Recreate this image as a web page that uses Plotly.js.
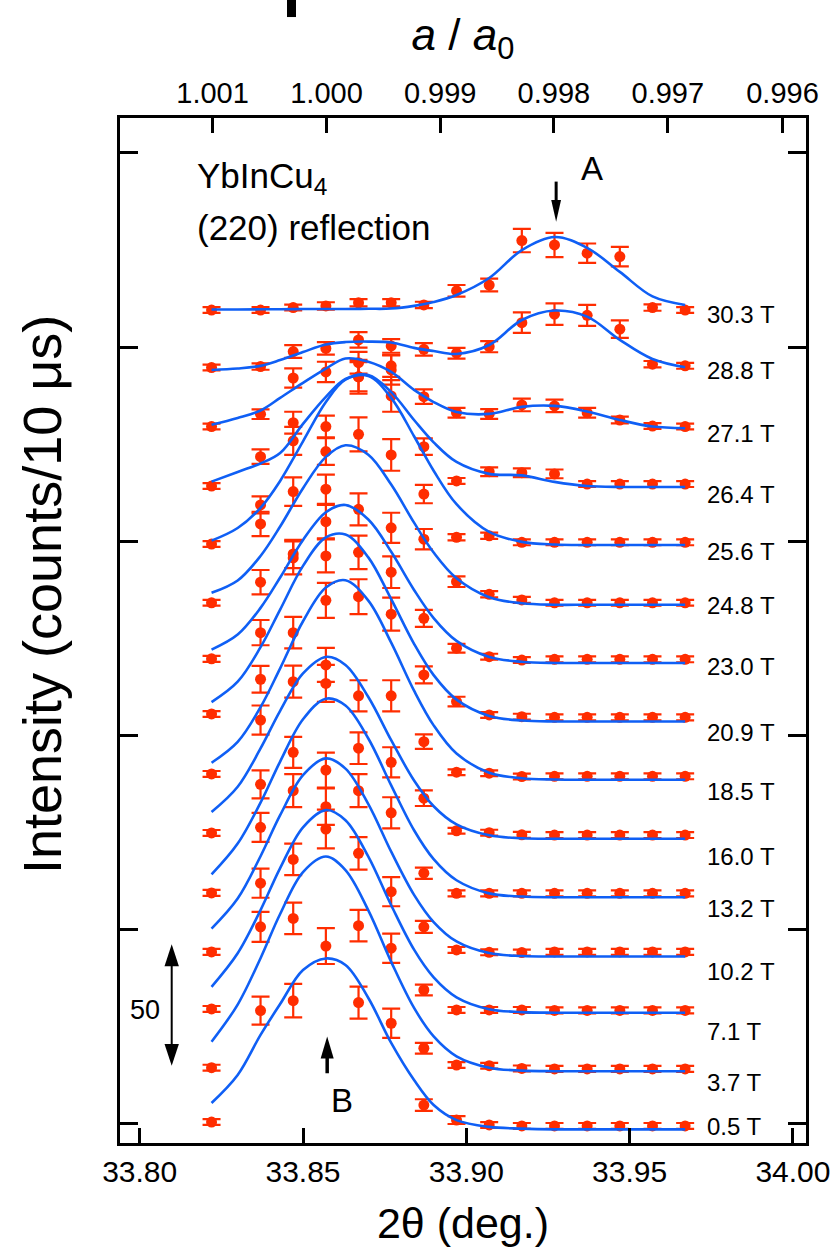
<!DOCTYPE html>
<html>
<head>
<meta charset="utf-8">
<script src="https://cdn.plot.ly/plotly-3.0.1.min.js"></script>
<style>html,body{margin:0;padding:0;background:#fff;}#chart{width:832px;height:1256px;}</style>
</head>
<body>
<div id="chart"></div>
<script>
// ---------------- data ----------------
const twoTheta = [33.822, 33.837, 33.847, 33.857, 33.867, 33.877, 33.887, 33.897, 33.907, 33.917, 33.927, 33.937, 33.947, 33.957, 33.967];
const fitTwoTheta = [33.822, 33.830, 33.837, 33.843, 33.850, 33.857, 33.863, 33.870, 33.877, 33.884, 33.890, 33.897, 33.907, 33.917, 33.927, 33.937, 33.947, 33.957, 33.967];

const fieldLabels = ['0.5 T','3.7 T','7.1 T','10.2 T','13.2 T','16.0 T','18.5 T','20.9 T','23.0 T','24.8 T','25.6 T','26.4 T','27.1 T','28.8 T','30.3 T'];
const curveOffsets = [0, 24, 48, 72, 96, 120, 144, 168, 192, 216, 240, 264, 288, 312, 336];

// measured intensities (counts / 10 us, above each curve's offset)
const counts_0p5T  = [0.8, 46.7, 50.8, 73.3, 50.0, 41.5, 7.8, 1.6, -0.4, -0.8, -0.8, -0.8, -0.8, -0.8, -0.8];
const counts_3p7T  = [-0.8, 57.2, 60.7, 97.5, 57.7, 48.4, 7.2, 0.3, 0.0, -1.1, -1.3, -1.3, -1.3, -1.3, -1.3];
const counts_7p1T  = [-0.6, 51.2, 61.0, 82.7, 63.5, 47.7, 7.2, -1.0, -1.0, -1.0, -1.2, -1.2, -1.2, -1.2, -1.2];
const counts_10p2T = [-1.1, 50.2, 65.3, 73.8, 65.3, 56.2, 9.2, -0.3, -1.3, -1.4, -1.1, -1.1, -1.1, -1.1, -1.1];
const counts_13p2T = [-0.8, 43.9, 57.1, 85.5, 58.8, 53.0, 7.3, -1.0, -1.0, -1.0, -1.0, -1.0, -1.0, -1.0, -1.0];
const counts_16p0T = [-0.1, 46.4, 62.2, 69.1, 56.4, 56.4, 14.2, 0.8, 0.0, -0.9, -1.0, -1.0, -1.0, -1.0, -1.0];
const counts_18p5T = [0.2, 39.2, 58.4, 71.7, 73.2, 66.0, 13.5, 0.9, 0.5, -0.9, -0.8, -0.8, -0.8, -0.8, -0.8];
const counts_20p9T = [0.9, 34.4, 65.2, 66.0, 67.5, 59.3, 17.0, 6.0, 0.5, -0.2, -0.5, -0.5, -0.5, -0.5, -0.5];
const counts_23p0T = [-0.4, 31.2, 42.8, 56.1, 61.2, 53.6, 16.3, 4.0, 0.5, -0.9, -0.6, -0.6, -0.6, -0.6, -0.6];
const counts_24p8T = [-1.3, 31.2, 44.5, 45.5, 68.1, 59.6, 24.9, 7.4, 2.2, -0.1, -1.3, -1.3, -1.3, -1.3, -1.3];
const counts_25p6T = [-1.1, 15.0, 41.4, 37.0, 67.8, 59.9, 19.5, 1.7, 2.3, -0.4, -0.4, -0.4, -0.4, -0.4, -0.4];
const counts_26p4T = [-1.2, 10.9, 24.9, 23.3, 43.8, 46.6, 15.0, 0.9, 4.7, 4.3, 3.8, -0.4, -0.4, -0.4, -0.4];
const counts_27p1T = [-0.7, 4.4, 19.3, 21.8, 25.6, 24.3, 11.6, 5.0, 4.5, 8.2, 7.8, 5.0, 2.0, -0.5, -0.7];
const counts_28p8T = [-0.4, 0.0, 6.2, 7.5, 11.0, 8.5, 7.1, 5.5, 8.2, 18.1, 21.6, 21.1, 15.4, 1.0, 0.3];
const counts_30p3T = [-0.7, -0.7, 0.3, 1.0, 2.3, 2.3, 1.4, 7.2, 9.6, 27.9, 26.1, 22.7, 21.3, 0.3, -0.7];

const err_0p5T  = [1.2, 5.8, 6.9, 7.4, 6.6, 6.0, 2.4, 1.6, 1.2, 1.2, 1.2, 1.2, 1.2, 1.2, 1.2];
const err_3p7T  = [1.2, 6.2, 6.5, 8.0, 6.5, 6.0, 2.2, 1.2, 1.2, 1.2, 1.2, 1.2, 1.2, 1.2, 1.2];
const err_7p1T  = [1.2, 6.0, 6.5, 7.5, 6.7, 6.0, 2.2, 1.2, 1.2, 1.2, 1.2, 1.2, 1.2, 1.2, 1.2];
const err_10p2T = [1.2, 6.0, 6.8, 7.2, 6.8, 6.4, 2.5, 1.2, 1.2, 1.2, 1.2, 1.2, 1.2, 1.2, 1.2];
const err_13p2T = [1.2, 5.8, 6.4, 7.6, 6.5, 6.2, 2.3, 1.2, 1.2, 1.2, 1.2, 1.2, 1.2, 1.2, 1.2];
const err_16p0T = [1.2, 6.0, 6.6, 7.0, 6.4, 6.4, 3.2, 1.2, 1.2, 1.2, 1.2, 1.2, 1.2, 1.2, 1.2];
const err_18p5T = [1.2, 5.5, 6.5, 7.2, 7.2, 6.8, 3.0, 1.2, 1.2, 1.2, 1.2, 1.2, 1.2, 1.2, 1.2];
const err_20p9T = [1.2, 5.2, 6.8, 6.8, 6.9, 6.5, 3.5, 2.0, 1.2, 1.2, 1.2, 1.2, 1.2, 1.2, 1.2];
const err_23p0T = [1.2, 5.0, 5.8, 6.9, 6.6, 6.2, 3.5, 1.8, 1.2, 1.2, 1.2, 1.2, 1.2, 1.2, 1.2];
const err_24p8T = [1.2, 5.0, 5.9, 6.0, 7.0, 6.5, 4.2, 2.2, 1.3, 1.2, 1.2, 1.2, 1.2, 1.2, 1.2];
const err_25p6T = [1.2, 3.5, 5.8, 5.5, 7.0, 6.5, 3.8, 1.3, 1.3, 1.2, 1.2, 1.2, 1.2, 1.2, 1.2];
const err_26p4T = [1.2, 3.0, 4.5, 4.5, 6.0, 6.0, 3.4, 1.2, 1.8, 1.8, 1.8, 1.2, 1.2, 1.2, 1.2];
const err_27p1T = [1.2, 2.0, 4.0, 4.2, 4.5, 4.5, 3.0, 2.0, 2.0, 2.6, 2.6, 2.0, 1.4, 1.2, 1.2];
const err_28p8T = [1.2, 1.3, 2.6, 2.6, 3.2, 2.8, 2.6, 2.2, 2.3, 4.2, 4.4, 4.3, 3.6, 1.3, 1.2];
const err_30p3T = [1.2, 1.2, 1.2, 1.5, 1.5, 1.5, 1.3, 2.4, 2.6, 4.8, 5.0, 4.0, 4.0, 1.3, 1.2];

// fitted profiles (same units as counts)
const fit_0p5T  = [8.65, 20.2, 36.7, 49.4, 63.4, 68.2, 65.5, 51.9, 33.4, 18.1, 7.8, 1.6, -1.2, -1.9, -2.2, -2.2, -2.2, -2.2, -2.2];
const fit_3p7T  = [9.9, 25.2, 44.3, 62.5, 79.8, 86.2, 80.6, 64.0, 42.8, 23.8, 12.1, 3.9, -0.8, -2.0, -2.25, -2.25, -2.25, -2.25, -2.25];
const fit_7p1T  = [8.5, 22.3, 40.1, 57.4, 74.2, 81.3, 77.1, 62.1, 42.1, 23.8, 12.4, 4.2, -0.7, -1.9, -2.15, -2.15, -2.15, -2.15, -2.15];
const fit_10p2T = [8.5, 20.9, 38.3, 55.2, 71.7, 78.6, 74.4, 59.8, 40.2, 22.4, 11.2, 3.2, -1.6, -2.8, -3.0, -3.0, -3.0, -3.0, -3.0];
const fit_13p2T = [6.8, 19.5, 36.4, 53.3, 70.7, 79.2, 76.4, 62.8, 43.5, 25.0, 13.1, 4.4, -1.0, -2.3, -2.6, -2.6, -2.6, -2.6, -2.6];
const fit_16p0T = [8.5, 18.9, 34.7, 50.2, 65.6, 72.4, 69.1, 55.9, 38.1, 21.5, 10.9, 3.4, -1.1, -2.3, -2.5, -2.5, -2.5, -2.5, -2.5];
const fit_18p5T = [4.8, 13.4, 27.7, 43.7, 63.1, 77.0, 80.0, 71.6, 54.3, 34.5, 20.2, 8.6, 0.7, -1.6, -2.1, -2.2, -2.2, -2.2, -2.2];
const fit_20p9T = [5.8, 14.2, 28.4, 43.9, 61.9, 73.6, 74.8, 65.4, 48.2, 29.8, 16.9, 6.8, 0.1, -1.8, -2.2, -2.2, -2.2, -2.2, -2.2];
const fit_23p0T = [3.4, 9.6, 20.6, 33.1, 48.6, 60.0, 63.0, 57.0, 43.7, 28.0, 16.4, 7.0, 0.4, -1.6, -2.1, -2.1, -2.1, -2.1, -2.1];
const fit_24p8T = [2.8, 7.9, 18.0, 30.1, 45.9, 58.8, 63.6, 59.7, 47.4, 31.7, 19.4, 8.8, 1.0, -1.5, -2.1, -2.1, -2.1, -2.1, -2.1];
const fit_25p6T = [0.3, 5.5, 13.8, 24.9, 41.2, 57.4, 66.6, 68.1, 59.1, 43.3, 29.1, 15.3, 3.9, -0.2, -1.3, -1.5, -1.5, -1.5, -1.5];
const fit_26p4T = [0.6, 4.6, 8.1, 12.4, 24.4, 35.5, 42.9, 44.5, 37.5, 26.0, 16.8, 8.7, 3.8, 3.2, 0.5, -1.2, -1.6, -1.6, -1.6];
const fit_27p1T = [0.0, 2.8, 5.9, 11.1, 17.3, 23.2, 27.3, 26.0, 21.8, 14.4, 9.4, 5.3, 4.5, 7.4, 7.8, 5.5, 2.0, -0.7, -1.4];
const fit_28p8T = [-1.4, -0.8, 0.3, 2.7, 6.0, 9.1, 10.1, 10.3, 9.9, 7.7, 6.4, 5.2, 8.9, 19.2, 23.1, 20.6, 11.0, 3.1, -0.3];
const fit_30p3T = [-0.5, -0.5, -0.4, -0.4, -0.3, -0.3, -0.3, -0.2, -0.1, 1.0, 2.6, 5.5, 12.5, 24.0, 29.4, 24.9, 15.0, 4.9, 1.4];

// axis ticks
const bottomTickVals = [33.80, 33.85, 33.90, 33.95, 34.00];
const bottomTickText = ['33.80', '33.85', '33.90', '33.95', '34.00'];
const topTickVals = [33.8223, 33.8572, 33.8920, 33.9268, 33.9617, 33.9968];   // 2θ positions of a/a0 ticks
const topTickText = ['1.001', '1.000', '0.999', '0.998', '0.997', '0.996'];

// ---------------- build ----------------
const countsAll = [counts_0p5T, counts_3p7T, counts_7p1T, counts_10p2T, counts_13p2T, counts_16p0T, counts_18p5T, counts_20p9T, counts_23p0T, counts_24p8T, counts_25p6T, counts_26p4T, counts_27p1T, counts_28p8T, counts_30p3T];
const errAll = [err_0p5T, err_3p7T, err_7p1T, err_10p2T, err_13p2T, err_16p0T, err_18p5T, err_20p9T, err_23p0T, err_24p8T, err_25p6T, err_26p4T, err_27p1T, err_28p8T, err_30p3T];
const fitAll = [fit_0p5T, fit_3p7T, fit_7p1T, fit_10p2T, fit_13p2T, fit_16p0T, fit_18p5T, fit_20p9T, fit_23p0T, fit_24p8T, fit_25p6T, fit_26p4T, fit_27p1T, fit_28p8T, fit_30p3T];
const labelY = [-1.1, 17.0, 37.9, 62.7, 88.7, 110.0, 136.9, 161.2, 188.5, 213.4, 236.0, 259.5, 284.5, 310.4, 333.5];

const RED = '#ff2d00';
const BLUE = '#0f5ff5';
const FONT = 'Liberation Sans, Arial, Helvetica, sans-serif';

const traces = [];
countsAll.forEach((c, i) => {
  traces.push({
    type: 'scatter', mode: 'markers', name: fieldLabels[i] + ' data',
    x: twoTheta, y: c.map(v => v + curveOffsets[i]),
    marker: {color: RED, size: 11},
    error_y: {type: 'data', array: errAll[i], visible: true, color: RED, thickness: 2.2, width: 9},
    showlegend: false, hoverinfo: 'skip'
  });
});
fitAll.forEach((f, i) => {
  traces.push({
    type: 'scatter', mode: 'lines', name: fieldLabels[i] + ' fit',
    x: fitTwoTheta, y: f.map(v => v + curveOffsets[i]),
    line: {color: BLUE, width: 2.6, shape: 'spline', smoothing: 1},
    showlegend: false, hoverinfo: 'skip'
  });
});
// carrier for top axis
traces.push({type: 'scatter', mode: 'markers', x: [33.80, 34.00], y: [null, null], xaxis: 'x2', yaxis: 'y', showlegend: false, hoverinfo: 'skip', marker: {opacity: 0}});

const xRange = [33.79397, 34.0040];
const annotations = [];
fieldLabels.forEach((t, i) => {
  annotations.push({x: 33.9731, y: labelY[i], xref: 'x', yref: 'y', text: t, showarrow: false, xanchor: 'left', yanchor: 'middle', font: {size: 24, family: FONT, color: '#000'}});
});
annotations.push(
  {x: 33.8169, y: 389.7, xref: 'x', yref: 'y', text: 'YbInCu<sub>4</sub>', showarrow: false, xanchor: 'left', yanchor: 'middle', font: {size: 35, family: FONT, color: '#000'}},
  {x: 33.8169, y: 369.1, xref: 'x', yref: 'y', text: '(220) reflection', showarrow: false, xanchor: 'left', yanchor: 'middle', font: {size: 35, family: FONT, color: '#000'}},
  {x: 33.9385, y: 393.4, xref: 'x', yref: 'y', text: 'A', showarrow: false, font: {size: 33, family: FONT, color: '#000'}},
  {x: 33.8618, y: 9.6, xref: 'x', yref: 'y', text: 'B', showarrow: false, font: {size: 33, family: FONT, color: '#000'}},
  {x: 33.8015, y: 47.0, xref: 'x', yref: 'y', text: '50', showarrow: false, font: {size: 27, family: FONT, color: '#000'}},
  {x: -0.1137, y: 0.5346, xref: 'paper', yref: 'paper', text: 'Intensity (counts/10 μs)', textangle: -90, showarrow: false, xanchor: 'center', yanchor: 'middle', font: {size: 54, family: FONT, color: '#000'}}
);

// arrows (A, B, 50-count bar) drawn as line + filled head shapes in data units
const arrowShapes = [
  // A : pointing down
  {type: 'line', xref: 'x', yref: 'y', x0: 33.9275, x1: 33.9275, y0: 388.2, y1: 379, line: {color: '#000', width: 3}},
  {type: 'path', xref: 'x', yref: 'y', path: 'M33.9260,380.6 L33.9290,380.6 L33.9275,371.7 Z', fillcolor: '#000', line: {width: 0}},
  // B : pointing up
  {type: 'line', xref: 'x', yref: 'y', x0: 33.8574, x1: 33.8574, y0: 20.9, y1: 28, line: {color: '#000', width: 3.5}},
  {type: 'path', xref: 'x', yref: 'y', path: 'M33.8554,27.0 L33.8594,27.0 L33.8574,36.0 Z', fillcolor: '#000', line: {width: 0}},
  // 50-count scale bar
  {type: 'line', xref: 'x', yref: 'y', x0: 33.8098, x1: 33.8098, y0: 30, y1: 68, line: {color: '#000', width: 2}},
  {type: 'path', xref: 'x', yref: 'y', path: 'M33.8076,65.0 L33.8120,65.0 L33.8098,74.0 Z', fillcolor: '#000', line: {width: 0}},
  {type: 'path', xref: 'x', yref: 'y', path: 'M33.8076,33.0 L33.8120,33.0 L33.8098,24.0 Z', fillcolor: '#000', line: {width: 0}},
  // clipped glyph at top edge of the figure
  {type: 'rect', xref: 'paper', yref: 'paper', x0: 0.2434, x1: 0.2566, y0: 1.0985, y1: 1.1160, fillcolor: '#000', line: {width: 0}}
];

const axisCommon = {
  showgrid: false, zeroline: false, showline: true, linewidth: 3, linecolor: '#000',
  ticks: 'inside', tickwidth: 3, tickcolor: '#000'
};

const layout = {
  width: 832, height: 1256,
  margin: {l: 120, r: 26, t: 118, b: 113, pad: 0},
  paper_bgcolor: '#fff', plot_bgcolor: '#fff',
  showlegend: false,
  font: {family: FONT, color: '#000'},
  xaxis: Object.assign({}, axisCommon, {
    range: xRange, tickmode: 'array', tickvals: bottomTickVals, ticktext: bottomTickText,
    ticklen: 15, tickfont: {size: 30, family: FONT}, mirror: false,
    title: {text: '2θ (deg.)', font: {size: 43, family: FONT}, standoff: 21}
  }),
  xaxis2: Object.assign({}, axisCommon, {
    overlaying: 'x', side: 'top', anchor: 'y',
    range: xRange, tickmode: 'array', tickvals: topTickVals, ticktext: topTickText,
    ticklen: 15, tickfont: {size: 29, family: FONT},
    title: {text: '<i>a</i> / <i>a</i><sub>0</sub>', font: {size: 44, family: FONT}, standoff: 14}
  }),
  yaxis: Object.assign({}, axisCommon, {
    range: [-7.83, 414.4], tickmode: 'array', tickvals: [0, 80, 160, 240, 320, 400],
    showticklabels: false, ticklen: 18, mirror: 'ticks'
  }),
  annotations: annotations,
  shapes: arrowShapes
};

Plotly.newPlot('chart', traces, layout, {displayModeBar: false, staticPlot: true});
</script>
</body>
</html>
